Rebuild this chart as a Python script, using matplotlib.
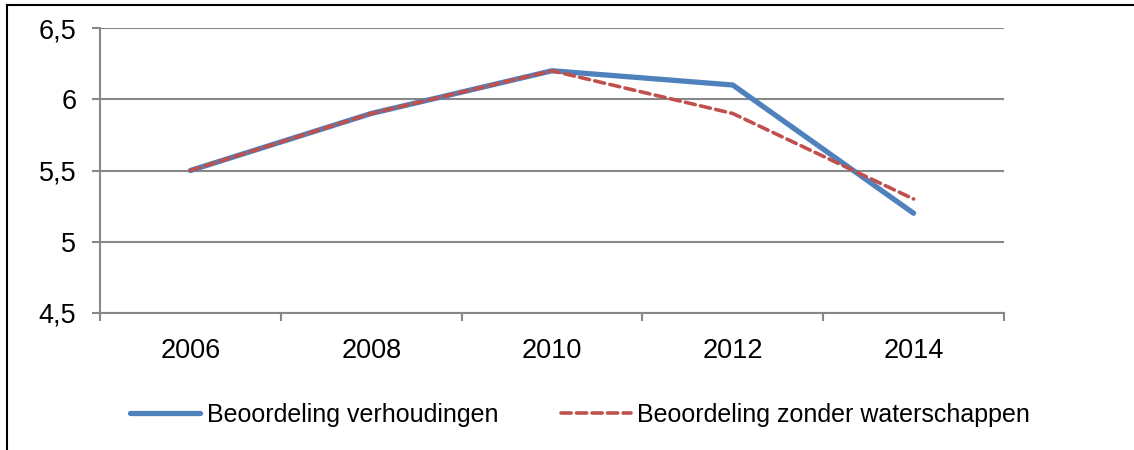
import matplotlib.pyplot as plt
from matplotlib.lines import Line2D
from matplotlib.ticker import FuncFormatter, FixedLocator

# === data ===
years = ["2006", "2008", "2010", "2012", "2014"]
verhoudingen = [5.5, 5.9, 6.2, 6.1, 5.2]
zonder_waterschappen = [5.5, 5.9, 6.2, 5.9, 5.3]

blue = "#4F81BD"
red = "#C0504D"
grid = "#888888"

plt.rcParams['font.family'] = ['Liberation Sans', 'DejaVu Sans']

fig = plt.figure(figsize=(11.34, 4.5), dpi=100)
W, H = 1134, 450
ax = fig.add_axes([100 / W, 1 - 313 / H, (1004 - 100) / W, (313 - 28) / H])

x = list(range(len(years)))
ax.plot(x, verhoudingen, color=blue, lw=3.8, solid_capstyle='round',
        solid_joinstyle='round', label="Beoordeling verhoudingen", zorder=3)
ax.plot(x, zonder_waterschappen, color=red, lw=2.6, dashes=(2.8, 1.5),
        dash_capstyle='round', label="Beoordeling zonder waterschappen", zorder=4)

ax.set_xlim(-0.5, len(years) - 0.5)
ax.set_ylim(4.5, 6.5)
ax.set_yticks([4.5, 5, 5.5, 6, 6.5])
ax.yaxis.set_major_formatter(FuncFormatter(lambda v, p: f"{v:g}".replace(".", ",")))
ax.set_xticks(x)
ax.set_xticklabels(years)
ax.xaxis.set_minor_locator(FixedLocator([i - 0.5 for i in range(len(years) + 1)]))

ax.tick_params(axis='x', which='major', length=0, pad=18, labelsize=19.5)
ax.tick_params(axis='x', which='minor', length=6, width=1.5, color=grid, direction='out')
ax.tick_params(axis='y', length=6, width=1.5, color=grid, pad=11, labelsize=19.5)

ax.yaxis.grid(True, color=grid, lw=1.5)
ax.set_axisbelow(True)
for s in ['top', 'right']:
    ax.spines[s].set_visible(False)
for s in ['left', 'bottom']:
    ax.spines[s].set_color(grid)
    ax.spines[s].set_linewidth(1.5)

fig.legend(loc='center', bbox_to_anchor=(580 / W, 1 - 415 / H), ncol=2,
           frameon=False, fontsize=18, handlelength=2.8, handletextpad=0.25,
           columnspacing=2.5)

# outer frame lines (top and left)
fig.add_artist(Line2D([7 / W, 1], [1 - 5 / H, 1 - 5 / H], color='black', lw=1.5,
                      transform=fig.transFigure))
fig.add_artist(Line2D([7 / W, 7 / W], [0, 1 - 5 / H], color='black', lw=1.5,
                      transform=fig.transFigure))

fig.savefig("out.png", dpi=100)
